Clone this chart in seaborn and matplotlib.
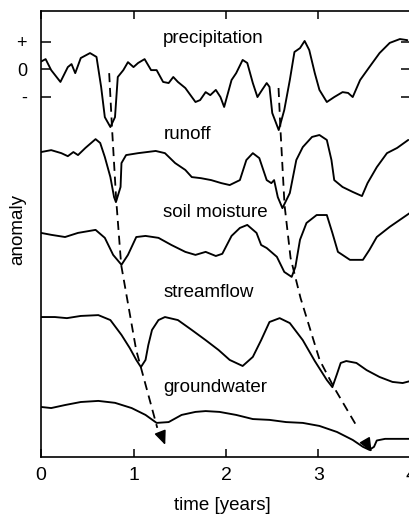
import matplotlib
matplotlib.use("Agg")
import matplotlib.pyplot as plt
import numpy as np
import pandas as pd
import seaborn as sns

# ---- anomaly series (time in years, anomaly in units of the +/- ticks) ----
precip_t = [0.00, 0.05, 0.11, 0.21, 0.29, 0.33, 0.37, 0.43, 0.53, 0.60, 0.65, 0.69, 0.75, 0.80,
            0.83, 0.89, 0.94, 1.00, 1.05, 1.12, 1.19, 1.25, 1.32, 1.38, 1.43, 1.48, 1.56, 1.67,
            1.72, 1.78, 1.83, 1.89, 1.94, 1.98, 2.06, 2.11, 2.18, 2.23, 2.29, 2.34, 2.39, 2.44,
            2.47, 2.50, 2.57, 2.63, 2.69, 2.74, 2.80, 2.85, 2.90, 2.96, 3.01, 3.09, 3.17, 3.26,
            3.32, 3.37, 3.45, 3.55, 3.66, 3.77, 3.88, 3.96]
precip_v = [0.27, 0.36, -0.04, -0.47, 0.07, 0.18, -0.15, 0.40, 0.58, 0.44, -0.65, -1.75, -2.11, -1.75,
            -0.29, -0.04, 0.25, 0.07, 0.22, 0.36, -0.04, -0.04, -0.47, -0.51, -0.29, -0.47, -0.69, -1.20,
            -1.13, -0.84, -0.95, -0.76, -1.02, -1.38, -0.40, -0.15, 0.33, 0.22, -0.51, -1.02, -0.76, -0.51,
            -0.65, -1.60, -2.22, -1.49, -0.40, 0.62, 0.76, 1.02, 0.69, -0.15, -0.76, -1.20, -1.02, -0.84,
            -0.87, -1.02, -0.40, 0.07, 0.58, 0.95, 1.09, 1.05]

runoff_t = [0.00, 0.11, 0.22, 0.29, 0.35, 0.40, 0.48, 0.59, 0.64, 0.69, 0.75, 0.79, 0.81, 0.86,
            0.87, 0.92, 1.05, 1.24, 1.34, 1.45, 1.56, 1.63, 1.73, 1.84, 1.95, 2.04, 2.15, 2.22,
            2.29, 2.36, 2.44, 2.49, 2.52, 2.56, 2.61, 2.69, 2.76, 2.83, 2.93, 3.01, 3.09, 3.14,
            3.17, 3.26, 3.37, 3.47, 3.53, 3.63, 3.74, 3.85, 3.97]
runoff_v = [0.00, 0.07, -0.04, -0.15, 0.00, -0.11, 0.15, 0.47, 0.33, -0.18, -0.91, -1.64, -1.82, -1.27,
            -0.40, -0.11, -0.04, 0.04, -0.04, -0.40, -0.65, -0.91, -0.95, -1.02, -1.13, -1.20, -1.02, -0.29,
            -0.04, -0.22, -1.02, -1.13, -1.02, -1.64, -2.04, -1.49, -0.29, 0.18, 0.55, 0.62, 0.44, -0.29,
            -1.02, -1.27, -1.45, -1.60, -1.13, -0.55, -0.04, 0.15, 0.44]

soil_t = [0.00, 0.11, 0.26, 0.40, 0.59, 0.69, 0.78, 0.87, 0.94, 1.03, 1.13, 1.27, 1.41, 1.56,
          1.67, 1.78, 1.89, 1.96, 2.06, 2.15, 2.23, 2.33, 2.38, 2.44, 2.55, 2.63, 2.71, 2.75,
          2.80, 2.87, 2.98, 3.09, 3.15, 3.21, 3.34, 3.48, 3.55, 3.63, 3.77, 3.99]
soil_v = [0.00, -0.07, -0.15, 0.00, 0.11, -0.18, -0.80, -1.16, -0.80, -0.15, -0.11, -0.18, -0.44, -0.69,
          -0.80, -0.69, -0.84, -0.76, -0.11, 0.18, 0.29, 0.00, -0.44, -0.55, -0.87, -1.42, -1.60, -1.24,
          -0.25, 0.36, 0.65, 0.65, 0.00, -0.69, -0.98, -0.98, -0.62, -0.15, 0.22, 0.73]

stream_t = [0.00, 0.15, 0.28, 0.43, 0.62, 0.75, 0.87, 0.96, 1.03, 1.08, 1.13, 1.16, 1.20, 1.27,
            1.34, 1.48, 1.63, 1.78, 1.92, 2.04, 2.18, 2.29, 2.38, 2.47, 2.58, 2.69, 2.83, 2.96,
            3.09, 3.15, 3.20, 3.24, 3.30, 3.41, 3.52, 3.66, 3.80, 3.91, 3.99]
stream_v = [0.00, 0.00, -0.04, 0.04, 0.07, -0.11, -0.65, -1.13, -1.56, -1.82, -1.56, -1.02, -0.47, -0.11,
            0.00, -0.11, -0.47, -0.84, -1.20, -1.56, -1.78, -1.45, -0.84, -0.18, -0.04, -0.22, -0.84, -1.60,
            -2.29, -2.55, -2.07, -1.67, -1.60, -1.67, -1.93, -2.18, -2.36, -2.40, -2.33]

ground_t = [0.00, 0.11, 0.26, 0.43, 0.62, 0.80, 0.98, 1.13, 1.25, 1.38, 1.52, 1.67, 1.78, 1.93,
            2.11, 2.29, 2.47, 2.65, 2.83, 3.01, 3.20, 3.37, 3.48, 3.55, 3.60, 3.63, 3.72, 3.99]
ground_v = [0.00, -0.04, 0.07, 0.18, 0.22, 0.15, -0.04, -0.29, -0.58, -0.55, -0.29, -0.18, -0.15, -0.18,
            -0.29, -0.44, -0.47, -0.55, -0.58, -0.69, -0.91, -1.20, -1.45, -1.56, -1.45, -1.22, -1.16, -1.16]

series_names = ["precipitation", "runoff", "soil moisture", "streamflow", "groundwater"]

# propagation of the two drought signals (time, stacked-axis value)
lag1_t = [0.737, 0.769, 0.813, 0.867, 1.029, 1.257]
lag1_y = [-0.15, -2.22, -4.76, -7.13, -10.22, -13.05]
lag2_t = [2.568, 2.589, 2.633, 2.698, 2.806, 3.012, 3.164, 3.424]
lag2_y = [-0.69, -2.22, -4.95, -6.87, -8.33, -10.58, -11.56, -13.05]

x_ticks = [0, 1, 2, 3, 4]
y_ticks = [1, 0, -1]
y_tick_labels = ["+", "0", "-"]

# ---- layout: vertical stacking of the curves ----
offsets = [0.0, -3.02, -5.96, -9.02, -12.29]
label_x = 1.322
label_y = [0.945, -2.545, -5.38, -8.29, -11.745]

series = [(precip_t, precip_v), (runoff_t, runoff_v), (soil_t, soil_v),
          (stream_t, stream_v), (ground_t, ground_v)]
frames = []
for name, (t, v), off in zip(series_names, series, offsets):
    frames.append(pd.DataFrame({"time": t, "anomaly": v, "series": name,
                                "stacked": np.asarray(v) + off}))
df = pd.concat(frames, ignore_index=True)

sns.set_theme(style="ticks")
plt.rcParams["font.family"] = ["Liberation Sans", "DejaVu Sans"]

W, H = 409, 514
fig = plt.figure(figsize=(W / 100, H / 100), dpi=100)
ax = fig.add_axes([41 / W, 57 / H, 370 / W, 446 / H])

for name in series_names:
    sns.lineplot(data=df[df["series"] == name], x="time", y="stacked", ax=ax,
                 color="black", lw=1.35, estimator=None, legend=False,
                 solid_joinstyle="round", solid_capstyle="round")

for lt, ly in ((lag1_t, lag1_y), (lag2_t, lag2_y)):
    ax.plot(lt, ly, color="black", lw=1.3, dashes=(5, 3.2))

arrow_style = dict(arrowstyle="-|>,head_length=0.7,head_width=0.3", color="black",
                   lw=1.1, shrinkA=0, shrinkB=0)
ax.annotate("", xy=(1.343, -13.67), xytext=(1.300, -13.30), arrowprops=arrow_style)
ax.annotate("", xy=(3.575, -13.93), xytext=(3.515, -13.58), arrowprops=arrow_style)

for name, ly in zip(series_names, label_y):
    ax.text(label_x, ly, name, fontsize=13.5, ha="left", va="baseline", color="black")

ax.set_xlim(0, 4)
ax.set_ylim(-14.11, 2.11)
ax.set_xticks(x_ticks)
ax.set_xticklabels([str(v) for v in x_ticks])
ax.set_yticks(y_ticks)
ax.set_yticklabels(y_tick_labels)
ax.tick_params(axis="x", direction="in", length=6, width=1.1, top=True, pad=7,
               labelsize=14, colors="black")
ax.tick_params(axis="y", direction="in", length=7, width=1.1, right=True, pad=10,
               labelsize=13, colors="black")
for s in ax.spines.values():
    s.set_linewidth(1.2)
    s.set_color("black")

ax.set_xlabel("")
ax.set_ylabel("anomaly", fontsize=13.5, color="black")
ax.yaxis.set_label_coords(-0.04, 0.51)
fig.text(222 / W, 4 / H, "time [years]", fontsize=13.5, ha="center", va="baseline",
         color="black")

fig.savefig("out.png", dpi=100, facecolor="white")
